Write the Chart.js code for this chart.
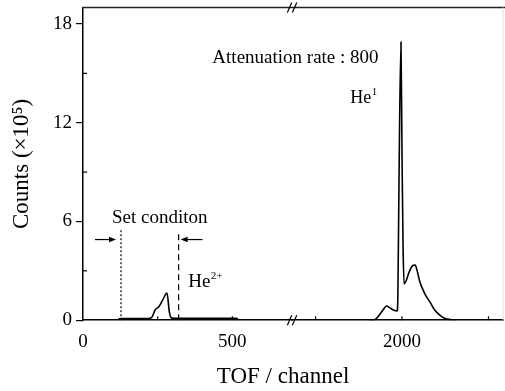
<!DOCTYPE html>
<html>
<head>
<meta charset="utf-8">
<title>TOF spectrum</title>
<script src="https://cdn.jsdelivr.net/npm/chart.js@4.4.1/dist/chart.umd.min.js"></script>
<style>
  html, body { margin: 0; padding: 0; background: #fff; }
  #wrap { width: 505px; height: 391px; }
</style>
</head>
<body>
<div id="wrap"><canvas id="tofChart" width="505" height="391"></canvas></div>
<script>
// TOF channel / counts (x10^5)
const LEFT_CHANNELS = [113, 118, 124, 218, 230, 242, 253, 266, 281, 289, 295, 305, 515, 520];
const LEFT_COUNTS = [0, 0.05, 0.1, 0.1, 0.17, 0.65, 0.8, 1.2, 1.65, 0.5, 0.15, 0.12, 0.12, 0];

const RIGHT_CHANNELS = [1905, 1919, 1930, 1945, 1955, 1965, 1975, 1986, 1988, 1992, 1997, 2000, 2003, 2006,
  2012, 2020, 2030, 2038, 2045, 2052, 2066, 2081, 2095, 2110, 2125, 2140, 2155];
const RIGHT_COUNTS = [0, 0, 0.2, 0.62, 0.86, 0.75, 0.62, 0.56, 1.5, 10, 16.9, 10, 4.5, 2.2,
  2.4, 2.9, 3.3, 3.35, 2.9, 2.3, 1.6, 1.1, 0.6, 0.3, 0.1, 0.04, 0];

// broken x axis: two segments
const LEFT_RANGE = [0, 700];
const RIGHT_RANGE = [1682, 2292];
const X_LEFT_TICKS = [0, 500];
const X_LEFT_MINOR = [250];
const X_RIGHT_TICKS = [2000];
const X_RIGHT_MINOR = [1750, 2250];

const Y_MAX = 19;
const Y_TICKS = [0, 6, 12, 18];
const Y_MINOR = [3, 9, 15];

// set condition window (channels)
const WINDOW_START = 127;
const WINDOW_END = 320;

const SERIF = "'Liberation Serif', 'DejaVu Serif', serif";

function strokeLine(ctx, x1, y1, x2, y2) {
  ctx.beginPath();
  ctx.moveTo(x1, y1);
  ctx.lineTo(x2, y2);
  ctx.stroke();
}

function arrow(ctx, fromX, toX, y) {
  const dir = Math.sign(toX - fromX);
  ctx.lineWidth = 1.2;
  strokeLine(ctx, fromX, y, toX - dir * 5, y);
  ctx.beginPath();
  ctx.moveTo(toX, y);
  ctx.lineTo(toX - dir * 7, y - 2.8);
  ctx.lineTo(toX - dir * 7, y + 2.8);
  ctx.closePath();
  ctx.fill();
}

// text with a raised superscript
function supText(ctx, base, sup, x, y, size) {
  ctx.font = size + "px " + SERIF;
  ctx.fillText(base, x, y);
  const w = ctx.measureText(base).width;
  ctx.font = Math.round(size * 0.6) + "px " + SERIF;
  ctx.fillText(sup, x + w + 0.5, y - size * 0.45);
}

const figureExtras = {
  id: "figureExtras",
  afterDraw(chart) {
    const { ctx, chartArea: area, scales } = chart;
    const { xl, xr, y } = scales;
    ctx.save();
    ctx.strokeStyle = "#000";
    ctx.fillStyle = "#000";

    // frame: top line and a faint right line
    ctx.lineWidth = 1.5;
    ctx.strokeStyle = "#222";
    strokeLine(ctx, area.left - 0.75, area.top, chart.width, area.top);
    ctx.lineWidth = 1;
    ctx.strokeStyle = "#e2e2e2";
    strokeLine(ctx, area.right, area.top, area.right, area.bottom);

    // inward ticks
    ctx.strokeStyle = "#000";
    ctx.lineWidth = 1.2;
    X_LEFT_TICKS.concat(X_LEFT_MINOR).forEach((v) => {
      if (v === 0) return;
      const px = xl.getPixelForValue(v);
      strokeLine(ctx, px, area.bottom, px, area.bottom - 4);
    });
    X_RIGHT_TICKS.concat(X_RIGHT_MINOR).forEach((v) => {
      const px = xr.getPixelForValue(v);
      strokeLine(ctx, px, area.bottom, px, area.bottom - 4);
    });
    Y_MINOR.forEach((v) => {
      const py = y.getPixelForValue(v);
      strokeLine(ctx, area.left, py, area.left + 4, py);
    });

    // break marks "//"
    const bx = xl.right;
    ctx.lineWidth = 1.2;
    [area.top, area.bottom].forEach((by) => {
      [-2.5, 2.5].forEach((off) => {
        strokeLine(ctx, bx + off - 2.2, by + 5, bx + off + 2.2, by - 5);
      });
    });

    // set condition window
    const y0 = y.getPixelForValue(0);
    ctx.lineWidth = 1.2;
    ctx.setLineDash([2, 2]);
    const dotX = xl.getPixelForValue(WINDOW_START);
    strokeLine(ctx, dotX, y0, dotX, y.getPixelForValue(5.5));
    ctx.setLineDash([6, 4]);
    const dashX = xl.getPixelForValue(WINDOW_END);
    strokeLine(ctx, dashX, y0, dashX, y.getPixelForValue(5.3));
    ctx.setLineDash([]);

    const arrowY = y.getPixelForValue(4.9);
    arrow(ctx, xl.getPixelForValue(40), dotX - 5, arrowY);
    arrow(ctx, xl.getPixelForValue(400), dashX + 2, arrowY);

    // labels
    ctx.textAlign = "left";
    ctx.textBaseline = "alphabetic";
    ctx.font = "19px " + SERIF;
    ctx.fillText("Set conditon", xl.getPixelForValue(97), y.getPixelForValue(5.88));
    ctx.fillText("Attenuation rate : 800", xl.getPixelForValue(433), y.getPixelForValue(15.6));
    supText(ctx, "He", "2+", xl.getPixelForValue(352), y.getPixelForValue(2.0), 19);
    supText(ctx, "He", "1", xr.getPixelForValue(1850), y.getPixelForValue(13.2), 18);

    // x axis title
    ctx.textAlign = "center";
    ctx.font = "23px " + SERIF;
    ctx.fillText("TOF / channel", (area.left + area.right) / 2 - 10, 383);
    ctx.restore();
  },
};

function toPoints(xs, ys) {
  return xs.map((x, i) => ({ x: x, y: ys[i] }));
}

function noEdgePadding(scale) {
  scale.paddingTop = 0;
  scale.paddingBottom = 0;
}

function xAxis(range, labelTicks, weight) {
  return {
    type: "linear",
    position: "bottom",
    stack: "tof",
    stackWeight: weight,
    min: range[0],
    max: range[1],
    afterBuildTicks: (scale) => {
      scale.ticks = labelTicks.map((v) => ({ value: v }));
    },
    grid: { display: false, drawTicks: false },
    border: { display: true, color: "#000", width: 1.5 },
    ticks: {
      color: "#000",
      font: { family: SERIF, size: 19 },
      padding: 10,
      maxRotation: 0,
      autoSkip: false,
      callback: (v) => String(v),
    },
  };
}

new Chart(document.getElementById("tofChart"), {
  type: "line",
  data: {
    datasets: [
      {
        label: "low channels",
        xAxisID: "xl",
        yAxisID: "y",
        data: toPoints(LEFT_CHANNELS, LEFT_COUNTS),
      },
      {
        label: "high channels",
        xAxisID: "xr",
        yAxisID: "y",
        data: toPoints(RIGHT_CHANNELS, RIGHT_COUNTS),
      },
    ],
  },
  options: {
    responsive: false,
    animation: false,
    devicePixelRatio: 1,
    layout: { padding: { left: 0, top: 7.5, right: 2, bottom: 28 } },
    elements: {
      line: { borderColor: "#000", borderWidth: 1.6, cubicInterpolationMode: "monotone", fill: false },
      point: { radius: 0, hoverRadius: 0 },
    },
    plugins: {
      legend: { display: false },
      tooltip: { enabled: false },
    },
    scales: {
      xl: xAxis(LEFT_RANGE, X_LEFT_TICKS, 209),
      xr: xAxis(RIGHT_RANGE, X_RIGHT_TICKS, 211),
      y: {
        type: "linear",
        position: "left",
        min: 0,
        max: Y_MAX,
        afterBuildTicks: (scale) => {
          scale.ticks = Y_TICKS.map((v) => ({ value: v }));
        },
        afterFit: noEdgePadding,
        grid: { drawOnChartArea: false, drawTicks: true, tickLength: 7, color: "#000", lineWidth: 1.2 },
        border: { display: true, color: "#000", width: 1.5 },
        ticks: { color: "#000", font: { family: SERIF, size: 19 }, padding: 4 },
        title: {
          display: true,
          text: "Counts (×10⁵)",
          color: "#000",
          font: { family: SERIF, size: 23 },
          padding: { top: 8, bottom: 13.5 },
        },
      },
    },
  },
  plugins: [figureExtras],
});
</script>
</body>
</html>
